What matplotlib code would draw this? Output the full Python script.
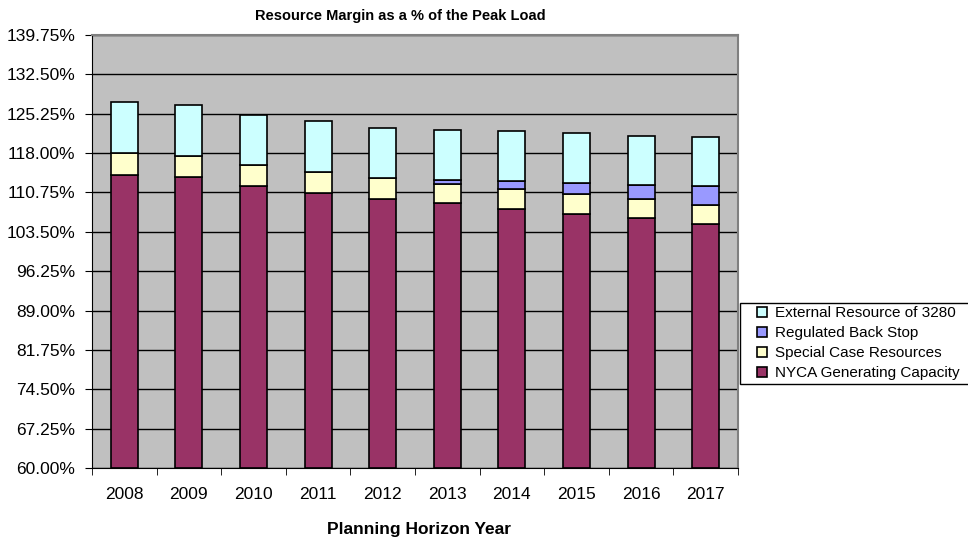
import numpy as np
from matplotlib import pyplot as plt
from matplotlib.patches import Rectangle
from matplotlib.ticker import FixedLocator, NullFormatter

plt.rcParams["font.family"] = ["Liberation Sans", "DejaVu Sans"]

years = ["2008", "2009", "2010", "2011", "2012", "2013", "2014", "2015", "2016", "2017"]
nyca = [113.9, 113.6, 112.0, 110.6, 109.6, 108.75, 107.7, 106.8, 106.0, 104.9]
special = [4.1, 3.8, 3.8, 3.9, 3.75, 3.5, 3.75, 3.6, 3.55, 3.55]
backstop = [0.0, 0.0, 0.0, 0.0, 0.0, 0.8, 1.35, 2.15, 2.65, 3.5]
external = [9.45, 9.5, 9.3, 9.45, 9.2, 9.25, 9.2, 9.2, 9.0, 8.95]
yticks = [60.0, 67.25, 74.5, 81.75, 89.0, 96.25, 103.5, 110.75, 118.0, 125.25, 132.5, 139.75]

W, H = 968, 542
ymin = 60.0
x = np.arange(len(years))
w = 0.42

fig = plt.figure(figsize=(W / 100, H / 100), dpi=100)
ax = fig.add_axes([92 / W, 74 / H, 646 / W, 433 / H])
ax.set_facecolor("#C0C0C0")

ax.set_ylim(ymin, 139.75)
ax.set_xlim(-0.5, len(years) - 0.5)
ax.set_yticks(yticks)
ax.set_yticklabels([f"{v:.2f}%" for v in yticks], fontsize=12.5)
ax.yaxis.grid(True, color="black", linewidth=1)
ax.set_axisbelow(True)

base = np.array(nyca) - ymin
b1 = ax.bar(x, base, w, bottom=ymin, color="#993366", edgecolor="black", linewidth=1.2,
            label="NYCA Generating Capacity")
bot = np.array(nyca)
b2 = ax.bar(x, special, w, bottom=bot, color="#FFFFCC", edgecolor="black", linewidth=1.2,
            label="Special Case Resources")
bot = bot + np.array(special)
bs = np.array(backstop)
b3 = ax.bar(x[bs > 0], bs[bs > 0], w, bottom=bot[bs > 0], color="#9999FF", edgecolor="black",
            linewidth=1.2, label="Regulated Back Stop")
bot = bot + bs
b4 = ax.bar(x, external, w, bottom=bot, color="#CCFFFF", edgecolor="black", linewidth=1.2,
            label="External Resource of 3280")

ax.set_xticks(x)
ax.set_xticklabels(years, fontsize=12.5)
ax.tick_params(axis="x", which="major", length=0, pad=14)
ax.xaxis.set_minor_locator(FixedLocator(np.arange(-0.5, len(years), 1.0)))
ax.xaxis.set_minor_formatter(NullFormatter())
ax.tick_params(axis="x", which="minor", length=5, color="black")
ax.tick_params(axis="y", length=5, color="black", pad=7)

for s in ["top", "right"]:
    ax.spines[s].set_color("#808080")
    ax.spines[s].set_linewidth(1.5)
ax.spines["left"].set_color("black")
ax.spines["bottom"].set_color("black")

# title and axis label placed in pixel terms
fig.text(400 / W, 1 - 20 / H, "Resource Margin as a % of the Peak Load", ha="center",
         va="baseline", fontsize=10.5, fontweight="bold")
fig.text(419 / W, 1 - 534 / H, "Planning Horizon Year", ha="center", va="baseline",
         fontsize=12.5, fontweight="bold")

# legend box runs off the right edge
fig.patches.append(Rectangle((740 / W, 1 - 384 / H), 240 / W, 81 / H, transform=fig.transFigure,
                             facecolor="white", edgecolor="black", linewidth=1.0))
handles = [b4, b3, b2, b1]
leg = fig.legend(handles, [h.get_label() for h in handles], loc="upper left",
                 bbox_to_anchor=(757 / W, 1 - 306 / H), fontsize=11, frameon=False,
                 handlelength=0.65, handleheight=0.65, handletextpad=0.5, borderaxespad=0,
                 labelspacing=0.4, borderpad=0.0)

plt.savefig("out.png", dpi=100)
